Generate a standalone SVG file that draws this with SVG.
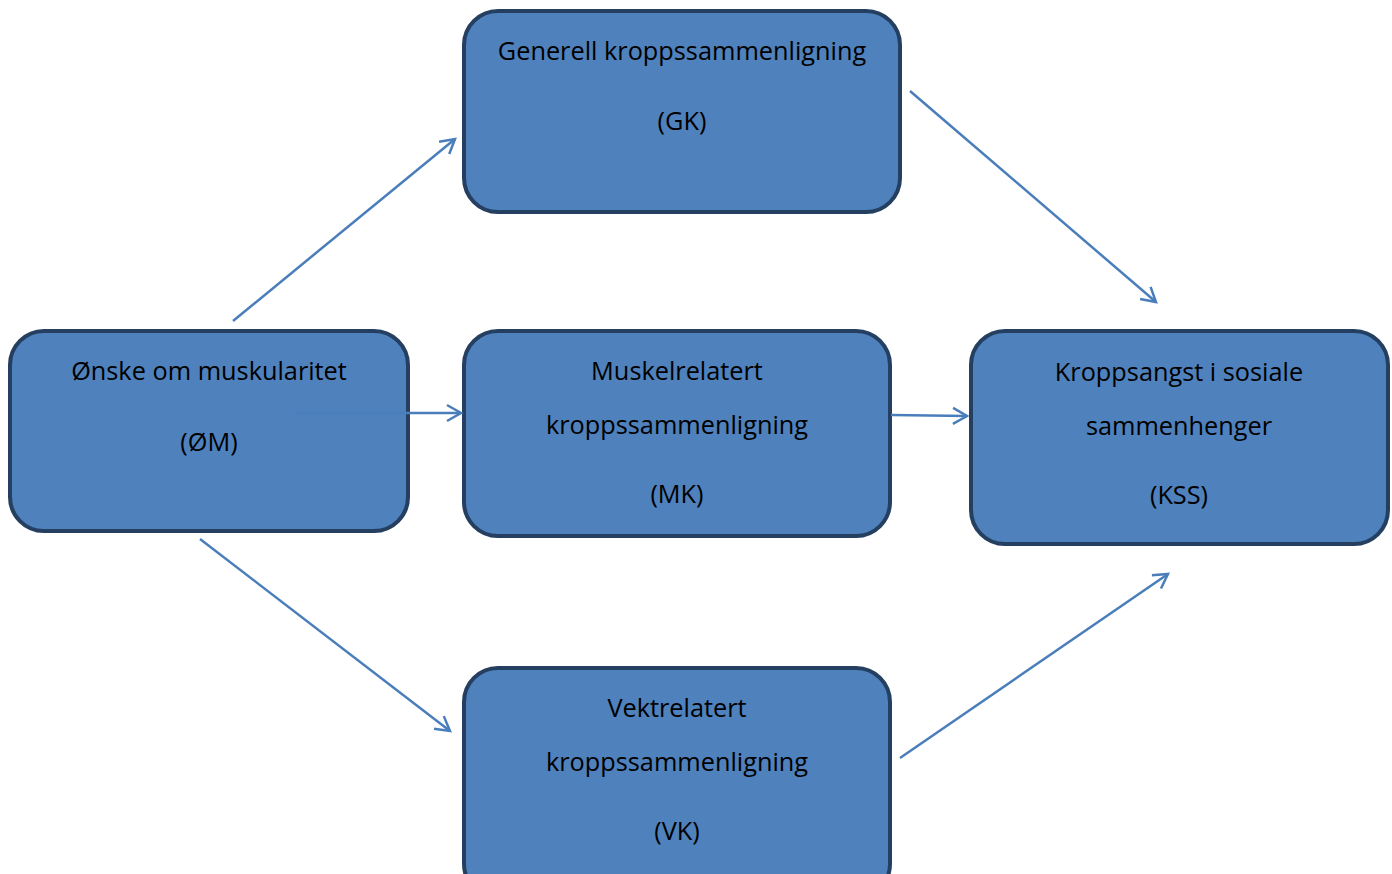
<svg xmlns="http://www.w3.org/2000/svg" width="1392" height="874" viewBox="0 0 1392 874">
<style>
.box{fill:#4f81bd;stroke:#243f60;stroke-width:4}
.t{font-family:"Open Sans",Lato,sans-serif;font-size:25.3px;fill:#000;text-anchor:middle}
.c{stroke:#4a7ebb;stroke-width:2.5;fill:none}
</style>
<defs>
<marker id="ah" markerUnits="userSpaceOnUse" markerWidth="22" markerHeight="22" viewBox="0 0 22 22" refX="18" refY="11" orient="auto">
<path d="M4,3 L18,11 L4,19" fill="none" stroke="#4a7ebb" stroke-width="2.5"/>
</marker>
</defs>
<rect width="1392" height="874" fill="#fff"/>
<g id="node-om">
<rect class="box" x="10" y="331" width="398" height="200" rx="34"/>
<text class="t" x="209" y="380">Ønske om muskularitet</text>
<text class="t" x="209" y="451">(ØM)</text>
</g>
<g id="node-gk">
<rect class="box" x="464" y="11" width="436" height="201" rx="34"/>
<text class="t" x="682" y="60">Generell kroppssammenligning</text>
<text class="t" x="682" y="130">(GK)</text>
</g>
<g id="node-mk">
<rect class="box" x="464" y="331" width="426" height="205" rx="34"/>
<text class="t" x="677" y="380">Muskelrelatert</text>
<text class="t" x="677" y="434">kroppssammenligning</text>
<text class="t" x="677" y="503">(MK)</text>
</g>
<g id="node-kss">
<rect class="box" x="971" y="331" width="417" height="213" rx="34"/>
<text class="t" x="1179" y="381">Kroppsangst i sosiale</text>
<text class="t" x="1179" y="435">sammenhenger</text>
<text class="t" x="1179" y="504">(KSS)</text>
</g>
<g id="node-vk">
<rect class="box" x="464" y="668" width="426" height="230" rx="34"/>
<text class="t" x="677" y="717">Vektrelatert</text>
<text class="t" x="677" y="771">kroppssammenligning</text>
<text class="t" x="677" y="840">(VK)</text>
</g>
<g id="connectors">
<line class="c" x1="233" y1="321" x2="455" y2="139" marker-end="url(#ah)"/>
<line class="c" x1="910" y1="91" x2="1156" y2="302" marker-end="url(#ah)"/>
<line class="c" x1="295" y1="413" x2="461" y2="413" marker-end="url(#ah)"/>
<line class="c" x1="891" y1="415" x2="967" y2="416" marker-end="url(#ah)"/>
<line class="c" x1="200" y1="539" x2="450" y2="731" marker-end="url(#ah)"/>
<line class="c" x1="900" y1="758" x2="1168" y2="574" marker-end="url(#ah)"/>
</g>
</svg>
